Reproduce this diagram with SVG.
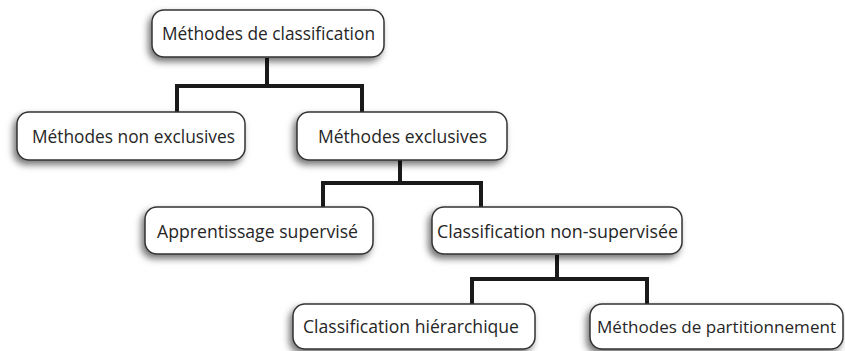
<svg xmlns="http://www.w3.org/2000/svg" width="845" height="351" viewBox="0 0 845 351">
<defs>
<filter id="sh" x="-20%" y="-30%" width="140%" height="170%">
<feDropShadow dx="-3" dy="4" stdDeviation="3.5" flood-color="#000" flood-opacity="0.55"/>
</filter>
<style>
.box{fill:#fff;stroke:#333;stroke-width:1.5;filter:url(#sh)}
.lbl{font-family:"Open Sans","Noto Sans","Liberation Sans",sans-serif;font-size:18px;fill:#262626}
.con{fill:none;stroke:#1a1a1a;stroke-width:4;stroke-linejoin:miter}
</style>
</defs>
<rect width="845" height="351" fill="#fff"/>
<g id="connectors">
<path class="con" d="M267 58V86M177 112V86H362V112"/>
<path class="con" d="M400 160V183M323 207V183H481V207"/>
<path class="con" d="M557 255V279M472 304V279H647V304"/>
</g>
<g id="n-root">
<rect class="box" x="152" y="10" width="232" height="47" rx="12"/>
<text class="lbl" x="162" y="40" textLength="213" lengthAdjust="spacingAndGlyphs">Méthodes de classification</text>
</g>
<g id="n-nonexcl">
<rect class="box" x="17" y="112" width="228" height="48" rx="12"/>
<text class="lbl" x="32" y="143" textLength="203" lengthAdjust="spacingAndGlyphs">Méthodes non exclusives</text>
</g>
<g id="n-excl">
<rect class="box" x="297" y="112" width="210" height="48" rx="12"/>
<text class="lbl" x="318" y="143" textLength="169" lengthAdjust="spacingAndGlyphs">Méthodes exclusives</text>
</g>
<g id="n-superv">
<rect class="box" x="145" y="207" width="228" height="47" rx="12"/>
<text class="lbl" x="157" y="238" textLength="201" lengthAdjust="spacingAndGlyphs">Apprentissage supervisé</text>
</g>
<g id="n-nonsuperv">
<rect class="box" x="432" y="207" width="250" height="47" rx="12"/>
<text class="lbl" x="437" y="238" textLength="241" lengthAdjust="spacingAndGlyphs">Classification non-supervisée</text>
</g>
<g id="n-hier">
<rect class="box" x="293" y="304" width="242" height="45" rx="12"/>
<text class="lbl" x="303" y="333" textLength="216" lengthAdjust="spacingAndGlyphs">Classification hiérarchique</text>
</g>
<g id="n-part">
<rect class="box" x="590" y="304" width="253" height="45" rx="12"/>
<text class="lbl" x="597" y="333" font-size="16.5" textLength="239" lengthAdjust="spacingAndGlyphs" style="font-size:16.5px">Méthodes de partitionnement</text>
</g>
</svg>
